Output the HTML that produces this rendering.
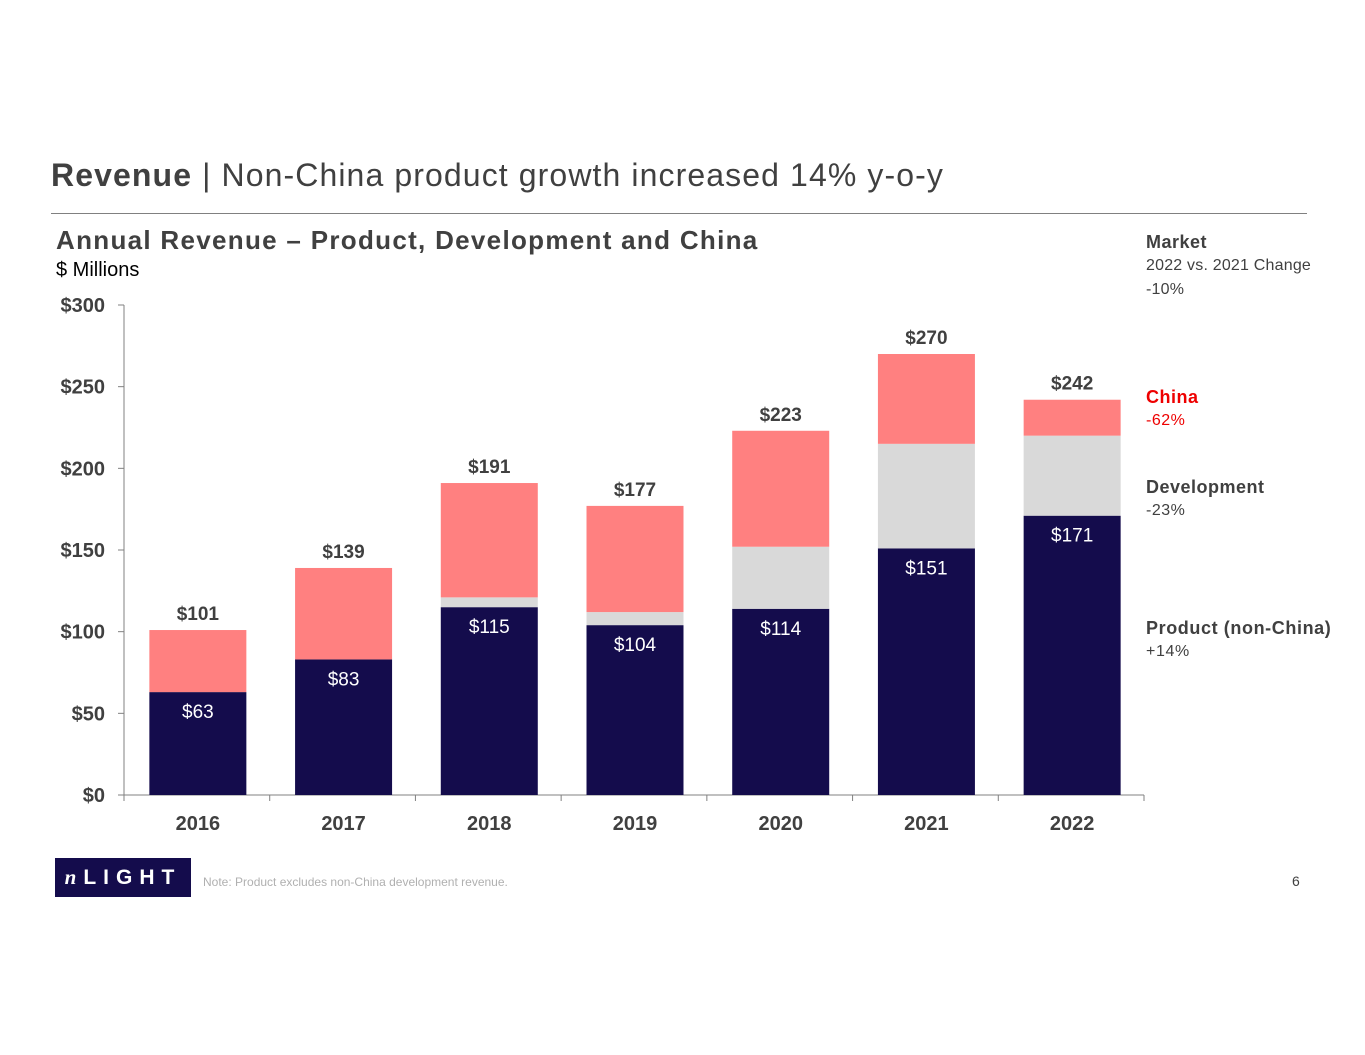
<!DOCTYPE html>
<html><head><meta charset="utf-8"><style>
body{margin:0;width:1365px;height:1055px;background:#fff;font-family:"Liberation Sans",sans-serif;position:relative;overflow:hidden;color:#404040}
.a{position:absolute;white-space:nowrap}
</style></head><body>
<div class="a" style="left:51px;top:157px;font-size:32px;letter-spacing:1.1px;color:#404040"><b>Revenue</b> | Non-China product growth increased 14% y-o-y</div>
<div class="a" style="left:51px;top:213px;width:1256px;height:1px;background:#808080"></div>
<div class="a" style="left:56px;top:225px;font-size:26px;letter-spacing:1.3px;font-weight:bold;color:#404040">Annual Revenue – Product, Development and China</div>
<div class="a" style="left:56px;top:259px;font-size:20px;color:#000">$ Millions</div>
<div class="a" style="left:1146px;top:231px;font-size:18px;line-height:22px;letter-spacing:0.5px"><b>Market</b><br><span style="font-size:16px;letter-spacing:0.2px">2022 vs. 2021 Change<br>-10%</span></div>
<div class="a" style="left:1146px;top:386px;font-size:18px;line-height:22px;letter-spacing:0.5px;color:#e00"><b>China</b><br><span style="font-size:16px">-62%</span></div>
<div class="a" style="left:1146px;top:476px;font-size:18px;line-height:22px;letter-spacing:0.5px"><b>Development</b><br><span style="font-size:16px">-23%</span></div>
<div class="a" style="left:1146px;top:617px;font-size:18px;line-height:22px;letter-spacing:0.6px"><b>Product (non-China)</b><br><span style="font-size:16px">+14%</span></div>
<svg class="a" style="left:0;top:0" width="1365" height="1055" id="chart"></svg>
<div class="a" style="left:55px;top:858px;width:136px;height:39px;background:#140c4c;color:#fff;font-size:21px;font-weight:bold;line-height:39px;text-align:center;letter-spacing:7px"><i style="font-family:'Liberation Serif',serif">n</i>LIGHT</div>
<div class="a" style="left:203px;top:875px;font-size:12px;color:#b0b0b0">Note:  Product excludes non-China development revenue.</div>
<div class="a" style="left:1292px;top:873px;font-size:14px">6</div>
<script>
const years=["2016","2017","2018","2019","2020","2021","2022"];
const product=[63,83,115,104,114,151,171];
const development=[0,0,6,8,38,64,49];
const china=[38,56,70,65,71,55,22];
const totals=[101,139,191,177,223,270,242];
const yTicks=[0,50,100,150,200,250,300];
const svg=document.getElementById('chart');const NS='http://www.w3.org/2000/svg';
const y0=795,y1=305,x0=124,x1=1144;
const Y=v=>y0-(v/300)*(y0-y1);
const band=(x1-x0)/years.length;
const X=i=>x0+band*(i+0.5)+1;
function mk(t,a,txt){const e=document.createElementNS(NS,t);for(const k in a)e.setAttribute(k,a[k]);if(txt!=null)e.textContent=txt;svg.appendChild(e);return e;}
let e=mk('line',{x1:x0,y1:y0,x2:x0,y2:y1,stroke:'#808080'});

e=mk('line',{x1:x0,y1:y0,x2:x1,y2:y0,stroke:'#808080'});

yTicks.forEach(v=>{
 mk('line',{x1:x0-6,y1:Y(v),x2:x0,y2:Y(v),stroke:'#808080'});
 e=mk('text',{x:105,y:Y(v)+7,'text-anchor':'end','font-size':20,'font-weight':'bold',fill:'#404040'},'$'+v);
 
});
for(let i=0;i<=years.length;i++)mk('line',{x1:x0+band*i,y1:y0,x2:x0+band*i,y2:y0+6,stroke:'#808080'});
const w=97;
years.forEach((yr,i)=>{
 const cx=X(i);let base=0;
 [[product[i],'#140c4c','bar-product'],[development[i],'#d9d9d9','bar-development'],[china[i],'#ff8080','bar-china']].forEach(([v,c,n])=>{
  e=mk('rect',{x:cx-w/2,y:Y(base+v),width:w,height:Y(base)-Y(base+v),fill:c});
  
  base+=v;
 });
 e=mk('text',{x:cx,y:Y(product[i])+26,'text-anchor':'middle','font-size':19,fill:'#fff'},'$'+product[i]);
 
 e=mk('text',{x:cx,y:Y(totals[i])-10,'text-anchor':'middle','font-size':19,'font-weight':'bold',fill:'#404040'},'$'+totals[i]);
 
 e=mk('text',{x:cx,y:830,'text-anchor':'middle','font-size':20,'font-weight':'bold',fill:'#404040'},yr);
 
});
</script>
</body></html>
